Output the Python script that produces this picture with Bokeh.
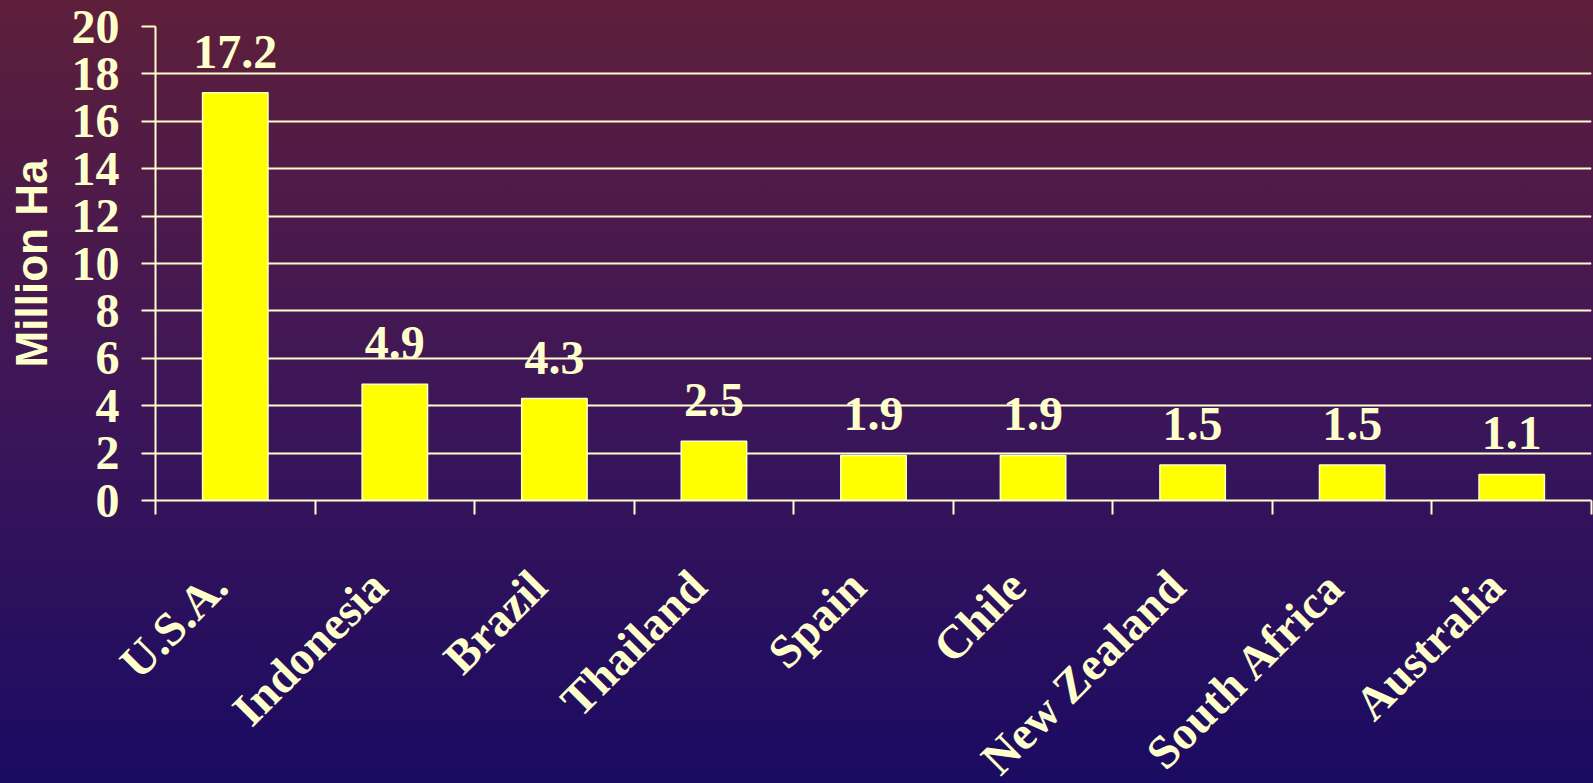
from math import pi

from bokeh.embed import file_html
from bokeh.layouts import column
from bokeh.models import ColumnDataSource, FixedTicker, LabelSet, Range1d
from bokeh.plotting import figure
from bokeh.resources import INLINE

# Plantation area by country, million hectares
countries = ["U.S.A.", "Indonesia", "Brazil", "Thailand", "Spain",
             "Chile", "New Zealand", "South Africa", "Australia"]
area_mha = [17.2, 4.9, 4.3, 2.5, 1.9, 1.9, 1.5, 1.5, 1.1]
y_ticks = [0, 2, 4, 6, 8, 10, 12, 14, 16, 18, 20]

CREAM = "#FFFFCC"
SERIF = "Liberation Serif"
PAGE_W, PAGE_H = 1593, 783
# the slanted names run past the lower edge of the page, so the figure is
# drawn a little taller and the surrounding box cuts it off
FIG_H = 805

positions = list(range(len(countries)))
source = ColumnDataSource(dict(
    x=positions,
    value=area_mha,
    label=[f"{v:.1f}" for v in area_mha],
))

fig = figure(
    width=PAGE_W, height=FIG_H, sizing_mode="fixed",
    x_range=Range1d(-0.5, len(countries) - 0.5),
    y_range=Range1d(0, 20),
    output_backend="svg", toolbar_location=None,
    min_border_left=155, min_border_right=2,
    min_border_top=26, min_border_bottom=FIG_H - 502,
)
fig.background_fill_color = None
fig.border_fill_color = None
fig.outline_line_color = None

fig.vbar(x="x", top="value", width=0.41, source=source,
         fill_color="#FFFF00", line_color=CREAM, line_width=1.5)

fig.add_layout(LabelSet(x="x", y="value", text="label", source=source,
                        y_offset=25, text_align="center", text_baseline="alphabetic",
                        text_font=SERIF, text_font_style="bold",
                        text_font_size="48px", text_color=CREAM))

# grid
fig.xgrid.grid_line_color = None
fig.ygrid.ticker = FixedTicker(ticks=y_ticks)
fig.ygrid.grid_line_color = CREAM
fig.ygrid.grid_line_width = 2

# y axis
ya = fig.yaxis[0]
ya.ticker = FixedTicker(ticks=y_ticks)
ya.axis_label = "Million Ha"
ya.axis_label_text_font = "Liberation Sans"
ya.axis_label_text_font_style = "bold"
ya.axis_label_text_font_size = "44px"
ya.axis_label_text_color = CREAM
ya.axis_label_standoff = 13
ya.major_label_text_font = SERIF
ya.major_label_text_font_style = "bold"
ya.major_label_text_font_size = "48px"
ya.major_label_text_color = CREAM
ya.major_label_standoff = 22
ya.axis_line_color = CREAM
ya.axis_line_width = 2
ya.major_tick_line_color = CREAM
ya.major_tick_line_width = 2
ya.major_tick_out = 14
ya.major_tick_in = 0
ya.minor_tick_line_color = None

# x axis: names set slightly left of the bar centres, tick marks at category edges
label_ticks = [i - 0.1 for i in positions]
xa = fig.xaxis[0]
xa.ticker = FixedTicker(ticks=label_ticks,
                        minor_ticks=[i - 0.5 for i in range(len(countries) + 1)])
xa.major_label_overrides = {t: name for t, name in zip(label_ticks, countries)}
xa.major_label_orientation = pi / 4
xa.major_label_text_font = SERIF
xa.major_label_text_font_style = "bold"
xa.major_label_text_font_size = "47px"
xa.major_label_text_color = CREAM
xa.major_label_standoff = 64
xa.axis_line_color = CREAM
xa.axis_line_width = 2
xa.major_tick_line_color = None
xa.major_tick_out = 0
xa.major_tick_in = 0
xa.minor_tick_line_color = CREAM
xa.minor_tick_line_width = 2
xa.minor_tick_out = 14
xa.minor_tick_in = 0

p = column(fig)
p.styles = {
    "max-height": f"{PAGE_H}px",
    "overflow": "hidden",
    "background-image": "linear-gradient(to bottom, #5E1F3A 0%, #3E1658 50%, #1A0B62 100%)",
}

open("out.html", "w").write(file_html(p, INLINE))
